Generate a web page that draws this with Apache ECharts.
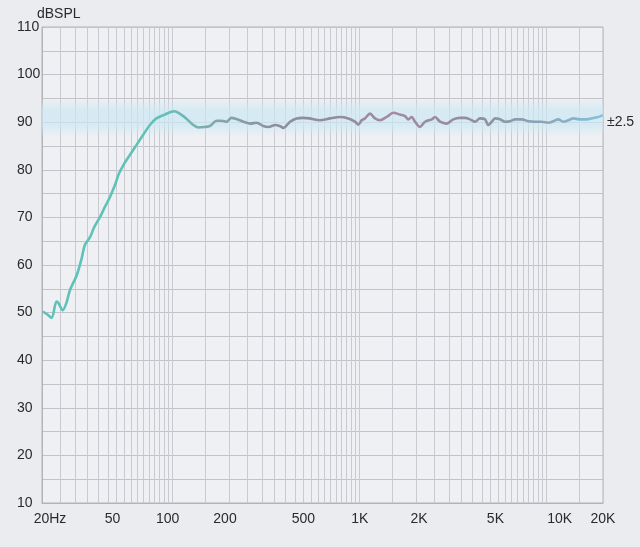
<!DOCTYPE html>
<html><head><meta charset="utf-8">
<script src="https://cdn.jsdelivr.net/npm/echarts@6/dist/echarts.min.js"></script>
<style>html,body{margin:0;padding:0;background:#ebecf0}#c{width:640px;height:547px}</style>
</head><body><div id="c"></div>
<script>
// ---- data ----
const freqs = [20.2,21.2,22.5,23.9,24.5,25.8,27.0,28.2,30.7,32.6,33.9,36.2,38.1,40.9,43.4,46.2,49.1,51.6,54.5,59.0,64.0,69.4,75.5,81.8,90.7,101.9,109,118,129,137,148,158,172,183,194,206,221,239,260,281,305,325,353,373,391,424,460,497,538,613,694,784,869,944,983,1025,1067,1135,1207,1283,1394,1512,1642,1747,1819,1897,1976,2102,2235,2427,2528,2689,2920,3166,3439,3656,3889,4136,4398,4677,4871,5082,5292,5626,5984,6366,6769,7350,7972,8660,9403,10200,10846,11536,12268,13046,13876,15068,16360,17750,18878,19920];
const spl = [50.2,49.7,48.9,52.3,52.0,50.5,52.0,54.7,57.9,61.4,64.2,65.9,68.0,70.1,72.2,74.3,76.8,79.2,81.0,83.1,85.2,87.3,89.4,90.8,91.6,92.3,91.8,90.8,89.4,88.9,89.0,89.2,90.3,90.3,90.1,90.9,90.6,90.1,89.7,89.9,89.2,89.0,89.4,89.2,88.8,90.1,90.8,90.9,90.8,90.4,90.8,91.1,90.8,90.1,89.5,90.4,90.8,91.8,90.8,90.4,91.1,92.0,91.6,91.3,90.6,91.1,90.1,89.0,90.1,90.6,91.1,90.1,89.7,90.6,90.9,90.9,90.6,90.1,90.8,90.6,89.4,90.1,90.8,90.6,90.1,90.2,90.6,90.6,90.2,90.1,90.1,89.9,90.2,90.6,90.1,90.4,90.8,90.6,90.6,90.9,91.1,91.5];
const xTickFreqs = [20,50,100,200,500,1000,2000,5000,10000,20000];
const xTickLabels = ['20Hz','50','100','200','500','1K','2K','5K','10K','20K'];
const gridFreqs = [20,25,30,35,40,45,50,55,60,65,70,75,80,85,90,95,100,
  150,200,250,300,350,400,450,500,550,600,650,700,750,800,850,900,950,1000,
  1500,2000,2500,3000,3500,4000,4500,5000,5500,6000,6500,7000,7500,8000,8500,9000,9500,10000,
  15000,20000];
const yMin = 10, yMax = 110, yStep = 5, yLabelStep = 10;
const refLevel = 90, refLabel = '±2.5';
const bandTop = 95, bandBottom = 87;
const yName = 'dBSPL';

// ---- styling ----
const labelShift = {'20Hz':8,'50':-4,'100':-5,'200':-4,'2K':3,'5K':5,'10K':13};
const FONT = '"Liberation Sans", Arial, sans-serif';
const TXT = '#2a2a2a';
const lg = Math.log10;
const points = freqs.map((f,i)=>[lg(f), spl[i]]);

const chart = echarts.init(document.getElementById('c'), null, {renderer:'canvas'});
const rich = {};
xTickLabels.forEach((t,i)=>{
  const d = labelShift[t]||0;
  rich['l'+i] = {fontSize:14, color:TXT, fontFamily:FONT,
    padding: d>0 ? [0,0,0,2*d] : [0,-2*d,0,0]};
});

chart.setOption({
  animation:false,
  backgroundColor:'#ebecf0',
  title:{text:yName, left:37, top:7, padding:0,
    textStyle:{fontSize:14, fontWeight:'normal', color:TXT, fontFamily:FONT}},
  grid:{left:42, right:37, top:27, bottom:44, show:true,
    backgroundColor:'#eef0f3', borderColor:'#b3b4b8', borderWidth:1},
  xAxis:{type:'value', min:lg(20), max:lg(20000),
    axisLine:{show:true, lineStyle:{color:'#b3b4b8'}},
    axisTick:{show:false, customValues: gridFreqs.map(lg)},
    splitLine:{show:true, lineStyle:{color:'#c9cacf', width:1}},
    axisLabel:{customValues: xTickFreqs.map(lg), margin:9, fontSize:14, color:TXT, fontFamily:FONT,
      formatter:(v)=>{
        let bi=0, bd=1e9;
        xTickFreqs.forEach((f,i)=>{const d=Math.abs(lg(f)-v); if(d<bd){bd=d;bi=i;}});
        return '{l'+bi+'|'+xTickLabels[bi]+'}';
      }, rich:rich}
  },
  yAxis:{type:'value', min:yMin, max:yMax, interval:yStep,
    axisLine:{show:true, lineStyle:{color:'#b3b4b8'}},
    axisTick:{show:false},
    splitLine:{show:true, lineStyle:{color:'#c2c3c8', width:1}},
    axisLabel:{align:'left', margin:25, fontSize:14, color:TXT, fontFamily:FONT,
      formatter:(v)=> (Math.round(v)%yLabelStep===0 ? String(Math.round(v)) : '')}
  },
  series:[{
    type:'line', data:points, showSymbol:false, smooth:0.3, z:3,
    lineStyle:{width:2.6, color:new echarts.graphic.LinearGradient(0,0,1,0,[
      {offset:0, color:'#5ec2b8'},
      {offset:0.22, color:'#62c0b8'},
      {offset:0.32, color:'#86a4ad'},
      {offset:0.42, color:'#8d8e9b'},
      {offset:0.55, color:'#968b9f'},
      {offset:0.62, color:'#a68aa0'},
      {offset:0.70, color:'#9a8b9e'},
      {offset:0.78, color:'#8e909c'},
      {offset:0.88, color:'#8aa2b4'},
      {offset:1, color:'#84c4df'}
    ])},
    markArea:{silent:true, itemStyle:{color:new echarts.graphic.LinearGradient(0,0,0,1,[
        {offset:0, color:'rgba(205,232,243,0)'},
        {offset:0.3, color:'rgba(205,232,243,0.7)'},
        {offset:0.7, color:'rgba(205,232,243,0.7)'},
        {offset:1, color:'rgba(205,232,243,0)'}
      ])},
      data:[[{yAxis:bandTop},{yAxis:bandBottom}]]}
  },{
    type:'line', data:[], silent:true,
    markLine:{silent:true, symbol:'none', animation:false,
      lineStyle:{color:'rgba(0,0,0,0)', width:0},
      label:{show:true, position:'end', distance:4, formatter:refLabel, fontSize:14, color:TXT, fontFamily:FONT},
      data:[{yAxis:refLevel}]}
  }]
});
</script></body></html>
